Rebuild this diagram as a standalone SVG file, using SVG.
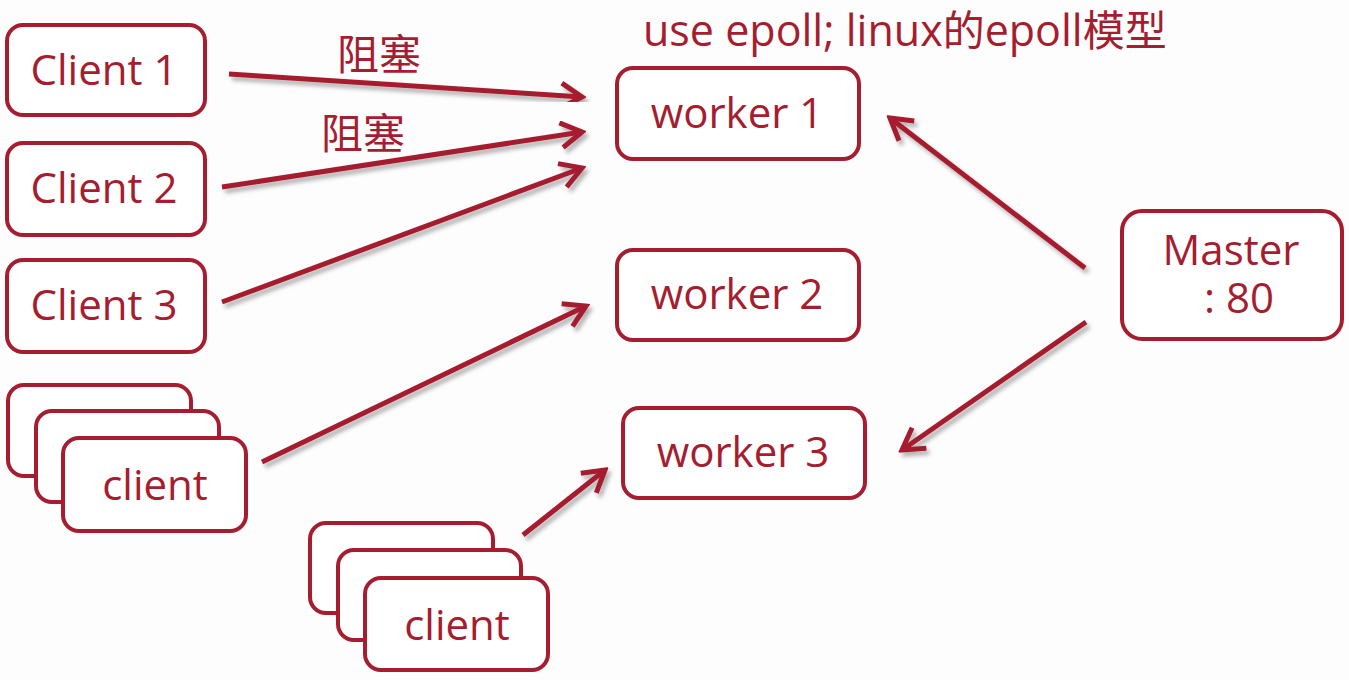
<svg xmlns="http://www.w3.org/2000/svg" width="1349" height="680" viewBox="0 0 1349 680">
<style>
.box{fill:#fff;stroke:#a51d2f;stroke-width:4}
.lbl{font-family:"Open Sans","Noto Sans",sans-serif;font-size:42px;fill:#a51d2f;text-anchor:middle}
.cn{font-family:"Noto Sans CJK SC","Noto Sans CJK JP",sans-serif;font-size:42px;fill:#a51d2f}
.ttl{font-family:"Open Sans","Noto Sans",sans-serif;font-size:43px;fill:#a51d2f}
.conn{stroke:#a51d2f;stroke-width:5;fill:none;marker-end:url(#ah);filter:url(#sh)}
</style>
<defs>
<marker id="ah" markerUnits="userSpaceOnUse" viewBox="-26 -15 30 30" markerWidth="30" markerHeight="30" refX="0" refY="0" orient="auto">
<path d="M-21,-12.5 L0,0 L-21,12.5" fill="none" stroke="#a51d2f" stroke-width="5"/>
</marker>
<filter id="sh" x="-20%" y="-20%" width="140%" height="140%">
<feDropShadow dx="3" dy="4" stdDeviation="2" flood-color="#000" flood-opacity="0.3"/>
</filter>
</defs>
<rect width="1349" height="680" fill="#fdfdfd"/>
<text class="ttl" x="643" y="46">use epoll; linux<tspan class="cn" font-size="40">的</tspan>epoll<tspan class="cn" font-size="40">模型</tspan></text>
<g id="client1"><rect class="box" x="7" y="25" width="198" height="90" rx="16"/><text class="lbl" x="104" y="85">Client 1</text></g>
<g id="client2"><rect class="box" x="7" y="143" width="198" height="92" rx="16"/><text class="lbl" x="104" y="203">Client 2</text></g>
<g id="client3"><rect class="box" x="7" y="260" width="198" height="92" rx="16"/><text class="lbl" x="104" y="320">Client 3</text></g>
<g id="clients-a">
<rect class="box" x="8" y="385" width="183" height="91" rx="16"/>
<rect class="box" x="36" y="411" width="183" height="91" rx="16"/>
<rect class="box" x="63" y="438" width="183" height="93" rx="16"/>
<text class="lbl" x="155" y="500">client</text></g>
<g id="clients-b">
<rect class="box" x="310" y="523" width="183" height="90" rx="16"/>
<rect class="box" x="338" y="550" width="183" height="90" rx="16"/>
<rect class="box" x="365" y="578" width="183" height="92" rx="16"/>
<text class="lbl" x="457" y="640">client</text></g>
<g id="worker1"><rect class="box" x="617" y="68" width="242" height="91" rx="16"/><text class="lbl" x="737" y="128">worker 1</text></g>
<g id="worker2"><rect class="box" x="617" y="250" width="242" height="90" rx="16"/><text class="lbl" x="737" y="309">worker 2</text></g>
<g id="worker3"><rect class="box" x="623" y="408" width="242" height="90" rx="16"/><text class="lbl" x="743" y="467">worker 3</text></g>
<g id="master"><rect class="box" x="1122" y="211" width="220" height="128" rx="20"/><text class="lbl"><tspan x="1231" y="265">Master</tspan><tspan x="1239" y="313">: 80</tspan></text></g>
<g id="labels">
<text class="cn" x="337" y="70">阻塞</text>
<text class="cn" x="321" y="149">阻塞</text>
</g>
<g id="connectors">
<line class="conn" x1="229" y1="74" x2="582" y2="97"/>
<line class="conn" x1="222" y1="187" x2="582" y2="132"/>
<line class="conn" x1="222" y1="302" x2="582" y2="168"/>
<line class="conn" x1="262" y1="462" x2="586" y2="306"/>
<line class="conn" x1="523" y1="535" x2="605" y2="470"/>
<line class="conn" x1="1085" y1="268" x2="890" y2="118"/>
<line class="conn" x1="1087" y1="294" x2="909" y2="294"/>
<line class="conn" x1="1086" y1="322" x2="902" y2="450"/>
</g>
</svg>
